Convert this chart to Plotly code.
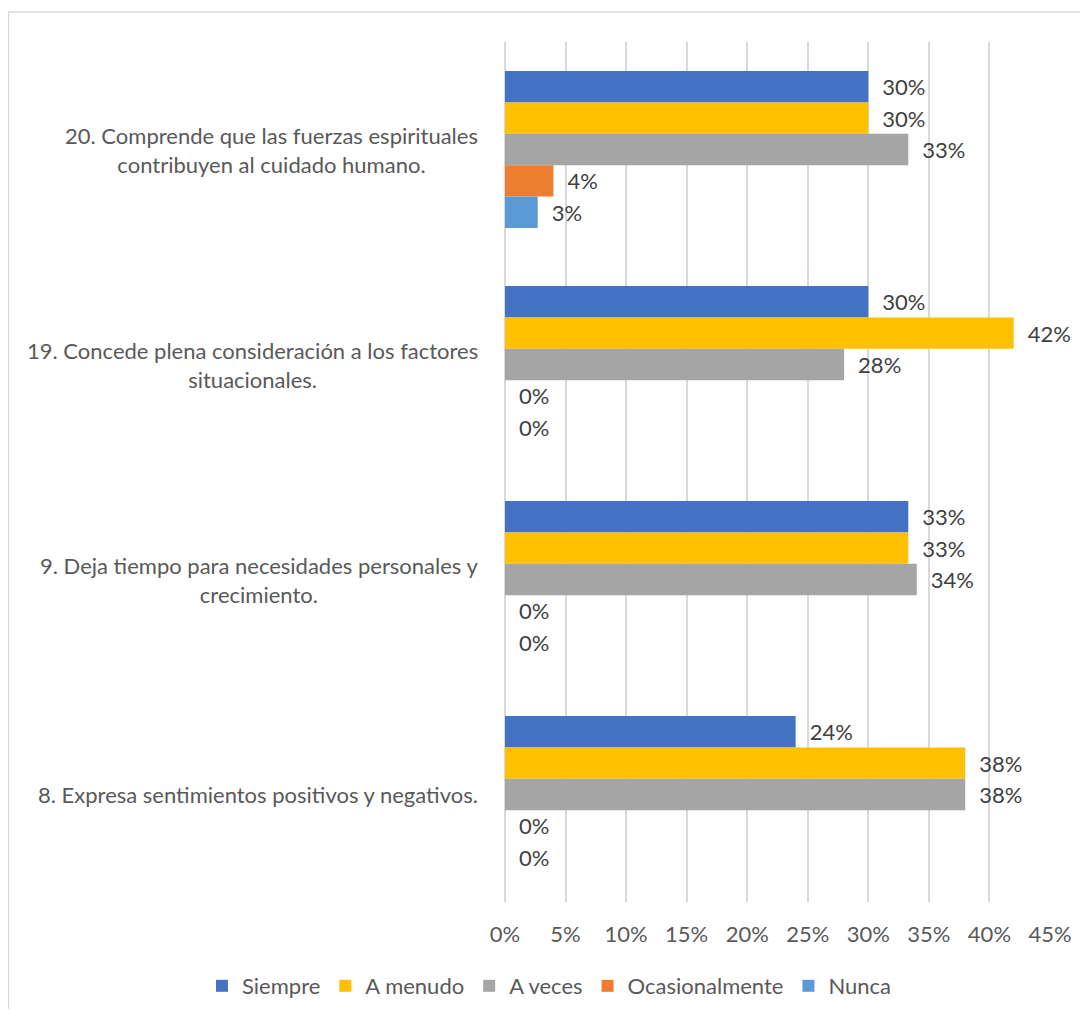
import plotly.graph_objects as go

categories = [
    "20. Comprende que las fuerzas espirituales<br>contribuyen al cuidado humano.",
    "19. Concede plena consideración a los factores<br>situacionales.",
    "9. Deja tiempo para necesidades personales y<br>crecimiento.",
    "8. Expresa sentimientos positivos y negativos.",
]
series_names = ["Siempre", "A menudo", "A veces", "Ocasionalmente", "Nunca"]
siempre = [0.30, 0.30, 0.333, 0.24]
a_menudo = [0.30, 0.42, 0.333, 0.38]
a_veces = [0.333, 0.28, 0.34, 0.38]
ocasionalmente = [0.04, 0.0, 0.0, 0.0]
nunca = [0.027, 0.0, 0.0, 0.0]
colors = ["#4472C4", "#FFC000", "#A5A5A5", "#ED7D31", "#5B9BD5"]
x_ticks = [0, 0.05, 0.10, 0.15, 0.20, 0.25, 0.30, 0.35, 0.40, 0.45]

FONT = "Lato, Open Sans, sans-serif"
TXT = "#595959"
FS = 22

fig = go.Figure()
for name, vals, col in zip(series_names, [siempre, a_menudo, a_veces, ocasionalmente, nunca], colors):
    fig.add_trace(go.Bar(
        y=categories, x=vals, name=name, orientation="h",
        marker=dict(color=col, line=dict(width=0)),
        texttemplate="\u2002%{x:.0%}", textposition="outside",
        textfont=dict(family=FONT, size=FS, color="#404040"),
        cliponaxis=False,
    ))

W, H = 1072, 1001
L, R, T, B = 497, 30, 34, 107
pw, ph = W - L - R, H - T - B

for c in categories:
    fig.add_annotation(
        x=(472 - L) / pw, xref="paper", y=c, yref="y",
        text=c, showarrow=False, xanchor="right", align="center",
        font=dict(family=FONT, size=FS, color=TXT),
    )

# outer chart-area border (right/bottom edges fall outside the picture)
fig.add_shape(type="rect", xref="paper", yref="paper",
              x0=(0.5 - L) / pw, x1=(W + 20 - L) / pw,
              y0=(H - B - (H + 20)) / ph, y1=(H - B - 4) / ph,
              line=dict(color="#D9D9D9", width=1.5), fillcolor="rgba(0,0,0,0)", layer="below")

fig.update_layout(
    width=W, height=H,
    margin=dict(l=L, r=R, t=T, b=B, pad=0, autoexpand=False),
    paper_bgcolor="white", plot_bgcolor="white",
    barmode="group", bargap=0.27, bargroupgap=0,
    font=dict(family=FONT, size=FS, color=TXT),
    showlegend=True,
    legend=dict(orientation="h", xref="paper", yref="paper",
                x=(194 - L) / pw, xanchor="left", y=(H - B - 978) / ph, yanchor="middle",
                font=dict(family=FONT, size=FS, color=TXT),
                traceorder="normal", bgcolor="rgba(0,0,0,0)",
                itemwidth=30, tracegroupgap=0),
    xaxis=dict(range=[0, 0.45], tickvals=x_ticks, tickformat=".0%",
               showgrid=True, gridcolor="#D9D9D9", gridwidth=1.5,
               zeroline=True, zerolinecolor="#D9D9D9", zerolinewidth=1.5,
               showline=False, ticks="", ticklabelstandoff=17,
               tickfont=dict(family=FONT, size=FS, color=TXT)),
    yaxis=dict(categoryorder="array", categoryarray=categories, autorange="reversed",
               showticklabels=False, showgrid=False, zeroline=False, showline=False, ticks=""),
)

fig.write_html("out.html")
